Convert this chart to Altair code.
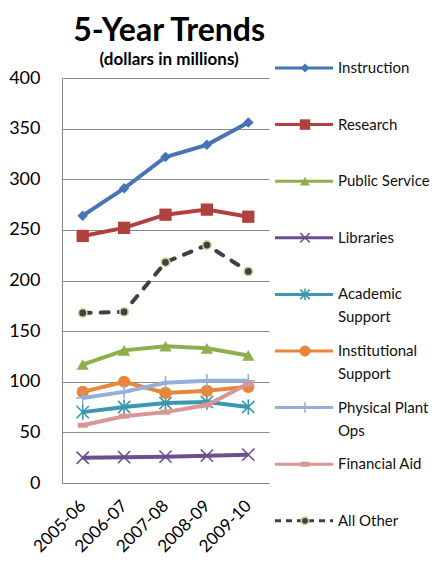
import altair as alt
import pandas as pd

FONT = "Lato"

years = ["2005-06", "2006-07", "2007-08", "2008-09", "2009-10"]

instruction = [264, 291, 322, 334, 356]
research = [244, 252, 265, 270, 263]
public_service = [117, 131, 135, 133, 126]
libraries = [25, 25.5, 26, 27, 28]
academic_support = [70, 75, 79, 80, 75]
institutional_support = [90, 100, 89, 91, 95]
physical_plant = [84, 90, 99, 101, 101]
financial_aid = [57, 66, 70, 77, 98]
all_other = [168, 169, 218, 235, 209]

names = ["Instruction", "Research", "Public Service", "Libraries",
         "Academic Support", "Institutional Support", "Physical Plant Ops",
         "Financial Aid", "All Other"]
label_line1 = ["Instruction", "Research", "Public Service", "Libraries",
               "Academic", "Institutional", "Physical Plant", "Financial Aid",
               "All Other"]
label_line2 = ["", "", "", "", "Support", "Support", "Ops", "", ""]
values = [instruction, research, public_service, libraries, academic_support,
          institutional_support, physical_plant, financial_aid, all_other]

X_PATH = "M-1,-1L1,1M-1,1L1,-1"
AST_PATH = "M-1,-1L1,1M-1,1L1,-1M0,-1.25L0,1.25"
PLUS_PATH = "M0,-1L0,1M-1,0L1,0"
DASH_PATH = "M-1,0L1,0"

styles = [
    dict(color="#4674B6", shape="diamond", filled=True, size=110, lsize=80),
    dict(color="#B0413E", shape="square", filled=True, size=150, lsize=110),
    dict(color="#8DB04C", shape="triangle-up", filled=True, size=150, lsize=100),
    dict(color="#6B4F91", shape=X_PATH, filled=False, size=150, lsize=90, sw=1.6),
    dict(color="#3B97AE", shape=AST_PATH, filled=False, size=150, lsize=90, sw=1.6),
    dict(color="#E8863C", shape="circle", filled=True, size=150, lsize=120),
    dict(color="#96AEDC", shape=PLUS_PATH, filled=False, size=180, lsize=110, sw=1.6),
    dict(color="#D99694", shape=DASH_PATH, filled=False, size=100, lsize=80, sw=5),
    dict(color="#404040", shape="circle", filled=True, size=70, lsize=55,
         stroke="#C3D69B", dash=[8, 10]),
]

x_enc = alt.X("year:N", sort=years, scale=alt.Scale(domain=years),
              axis=alt.Axis(title=None, labelAngle=315, labelAlign="right",
                            labelBaseline="middle", labelFontSize=17,
                            labelFont=FONT, labelColor="#000", labelPadding=20,
                            tickSize=0, domainColor="#888888", grid=False))
y_enc = alt.Y("value:Q", scale=alt.Scale(domain=[0, 400]),
              axis=alt.Axis(title=None, values=list(range(0, 401, 50)),
                            tickSize=0, labelPadding=22, labelFontSize=18,
                            labelFont=FONT, labelColor="#000",
                            gridColor="#8C8C8C", domainColor="#888888"))


def point_kw(st, size):
    kw = dict(shape=st["shape"], size=size, opacity=1)
    if st["filled"]:
        kw.update(filled=True, fill=st["color"])
        if "stroke" in st:
            kw.update(stroke=st["stroke"], strokeWidth=1.6)
        else:
            kw.update(stroke=st["color"], strokeWidth=0)
    else:
        kw.update(filled=False, stroke=st["color"], strokeWidth=st.get("sw", 1.5))
    return kw


main_layers = []
for name, vals, st in zip(names, values, styles):
    df = pd.DataFrame({"year": years, "value": vals, "series": name})
    base = alt.Chart(df).encode(x=x_enc, y=y_enc)
    line_kw = dict(color=st["color"], strokeWidth=4)
    if "dash" in st:
        line_kw.update(strokeDash=st["dash"], strokeCap="round")
    main_layers.append(base.mark_line(**line_kw))
    main_layers.append(base.mark_point(**point_kw(st, st["size"])))

main = alt.layer(*main_layers).properties(width=207, height=405)

leg_y = alt.Y("idx:Q", scale=alt.Scale(domain=[7.332, 0.177]), axis=None)
leg_layers = []
for i, (name, st) in enumerate(zip(names, styles)):
    ldf = pd.DataFrame({"idx": [i], "line1": [label_line1[i]],
                        "line2": [label_line2[i]]})
    lb = alt.Chart(ldf).encode(y=leg_y)
    rule_kw = dict(color=st["color"], strokeWidth=3)
    if "dash" in st:
        rule_kw.update(strokeDash=[6, 5])
    leg_layers.append(lb.mark_rule(**rule_kw).encode(x=alt.value(0), x2=alt.value(58)))
    leg_layers.append(lb.mark_point(**point_kw(st, st["lsize"])).encode(x=alt.value(30)))
    leg_layers.append(lb.mark_text(align="left", baseline="middle", font=FONT,
                                   fontSize=15, color="#111")
                      .encode(x=alt.value(63), text="line1:N"))
    leg_layers.append(lb.mark_text(align="left", baseline="middle", font=FONT,
                                   fontSize=15, color="#111", dy=23)
                      .encode(x=alt.value(63), text="line2:N"))

legend = alt.layer(*leg_layers).properties(width=150, height=405)

chart = alt.hconcat(main, legend, spacing=6, bounds="flush").properties(
    title=alt.Title("5-Year Trends", subtitle="(dollars in millions)",
                    font=FONT, fontSize=32, fontWeight="bold", color="#000",
                    subtitleFont=FONT, subtitleFontSize=17,
                    subtitleFontWeight="bold", subtitleColor="#000",
                    subtitlePadding=4, anchor="middle", offset=-8, dx=-50),
    padding={"top": 6, "left": 0, "right": 0, "bottom": 0},
).configure_view(stroke=None)

chart.save("out.html", embed_options={"renderer": "svg", "actions": False})
